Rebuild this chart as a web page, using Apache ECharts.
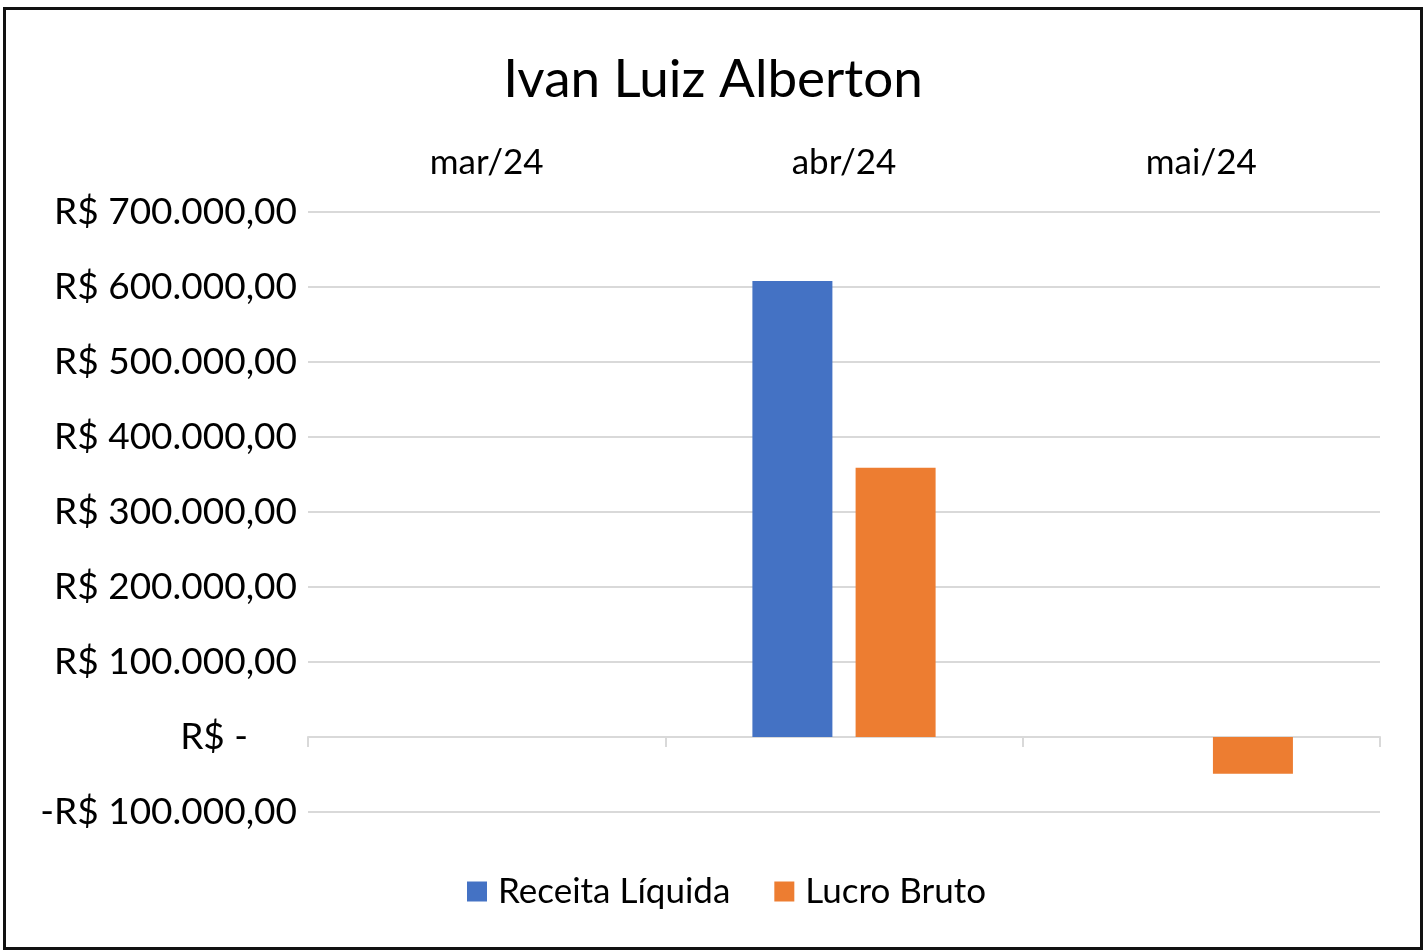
<!DOCTYPE html>
<html><head><meta charset="utf-8">
<script src="https://cdn.jsdelivr.net/npm/echarts@6/dist/echarts.min.js"></script>
<style>html,body{margin:0;padding:0;background:#fff}#c{width:1426px;height:952px}</style>
</head><body><div id="c"></div>
<script>
const categories = ['mar/24', 'abr/24', 'mai/24'];
const receitaLiquida = [0, 608000, 0];
const lucroBruto = [0, 359000, -49000];
const seriesNames = ['Receita Líquida', 'Lucro Bruto'];
const titleText = 'Ivan Luiz Alberton';

function fmt(v) {
  if (v === 0) return '{z|R$ -}';
  const neg = v < 0;
  const s = Math.abs(v).toFixed(2).split('.');
  const int = s[0].replace(/\B(?=(\d{3})+(?!\d))/g, '.');
  return (neg ? '-' : '') + 'R$ ' + int + ',' + s[1];
}

const FONT = 'Lato';
const chart = echarts.init(document.getElementById('c'));
chart.setOption({
  backgroundColor: '#fff',
  animation: false,
  title: {
    text: titleText, left: 'center', top: 48,
    textStyle: { fontFamily: FONT, fontSize: 53, fontWeight: 'normal', color: '#000' }
  },
  legend: {
    bottom: 38, left: 462, itemWidth: 20, itemHeight: 20, itemGap: 44,
    icon: 'rect',
    textStyle: { fontFamily: FONT, fontSize: 35, color: '#000', padding: [0, 0, 0, 6] },
    data: seriesNames
  },
  grid: { left: 308, right: 46, top: 212, bottom: 140 },
  xAxis: [
    {
      type: 'category', data: categories, position: 'top',
      axisLine: { show: false, onZero: false }, axisTick: { show: false },
      axisLabel: { fontFamily: FONT, fontSize: 35, color: '#000', margin: 32 }
    },
    {
      type: 'category', data: categories, position: 'bottom',
      axisLine: { show: true, onZero: true, onZeroAxisIndex: 0, lineStyle: { color: '#d9d9d9', width: 2 } },
      axisTick: { show: true, length: 10, lineStyle: { color: '#d9d9d9', width: 2 } },
      axisLabel: { show: false }
    }
  ],
  yAxis: {
    type: 'value', min: -100000, max: 700000, interval: 100000,
    axisLine: { show: false }, axisTick: { show: false },
    splitLine: { lineStyle: { color: '#d9d9d9', width: 2 } },
    axisLabel: {
      fontFamily: FONT, fontSize: 37, color: '#000', margin: 11,
      formatter: fmt,
      rich: { z: { fontFamily: FONT, fontSize: 37, color: '#000', padding: [0, 49, 0, 0] } }
    }
  },
  series: [
    { name: seriesNames[0], type: 'bar', xAxisIndex: 1, data: receitaLiquida,
      barWidth: 80, barGap: '29%', itemStyle: { color: '#4472C4' } },
    { name: seriesNames[1], type: 'bar', xAxisIndex: 1, data: lucroBruto,
      barWidth: 80, itemStyle: { color: '#ED7D31' } }
  ],
  graphic: [{
    type: 'rect', shape: { x: 4.5, y: 8.5, width: 1417, height: 940 },
    style: { fill: null, stroke: '#111', lineWidth: 3 }, z: 100
  }]
});
</script></body></html>
